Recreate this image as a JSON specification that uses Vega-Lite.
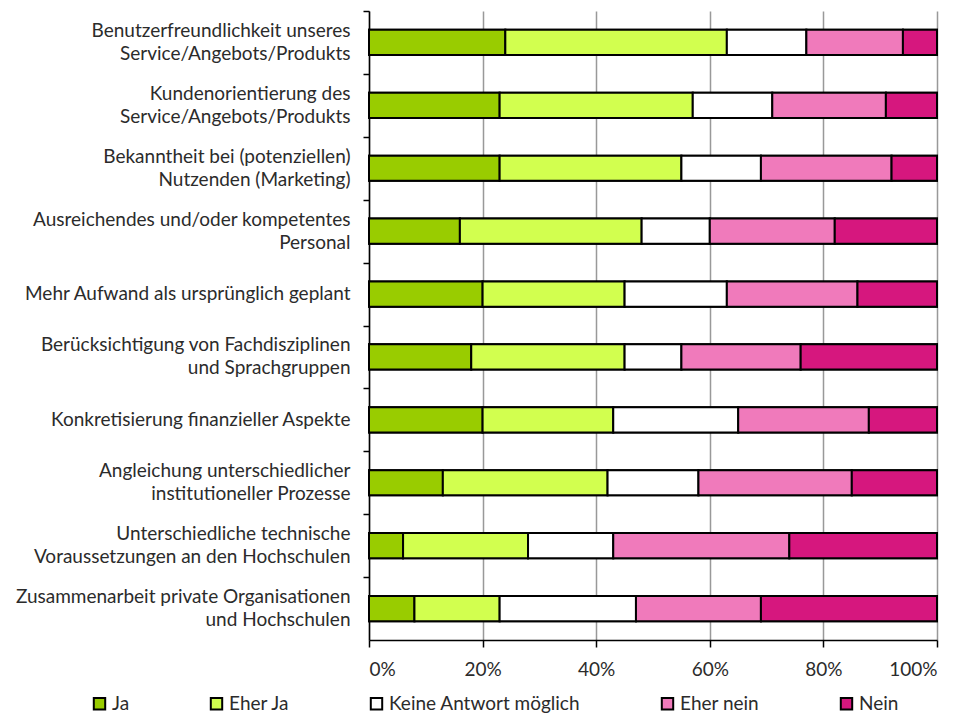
{
  "$schema": "https://vega.github.io/schema/vega-lite/v6.json",
  "width": 568,
  "height": 629,
  "autosize": {"type": "none"},
  "padding": {"left": 369, "top": 11, "right": 29, "bottom": 76},
  "background": "white",
  "config": {
    "view": {"stroke": null},
    "font": "Lato",
    "axis": {"labelFont": "Lato", "labelFontSize": 19, "labelColor": "#2b2b2b"},
    "legend": {"labelFont": "Lato", "labelFontSize": 19, "labelColor": "#2b2b2b"}
  },
  "data": {
    "values": [
      {"item": "Benutzerfreundlichkeit unseres|Service/Angebots/Produkts", "answer": "Ja", "value": 24},
      {"item": "Benutzerfreundlichkeit unseres|Service/Angebots/Produkts", "answer": "Eher Ja", "value": 39},
      {"item": "Benutzerfreundlichkeit unseres|Service/Angebots/Produkts", "answer": "Keine Antwort möglich", "value": 14},
      {"item": "Benutzerfreundlichkeit unseres|Service/Angebots/Produkts", "answer": "Eher nein", "value": 17},
      {"item": "Benutzerfreundlichkeit unseres|Service/Angebots/Produkts", "answer": "Nein", "value": 6},
      {"item": "Kundenorientierung des|Service/Angebots/Produkts", "answer": "Ja", "value": 23},
      {"item": "Kundenorientierung des|Service/Angebots/Produkts", "answer": "Eher Ja", "value": 34},
      {"item": "Kundenorientierung des|Service/Angebots/Produkts", "answer": "Keine Antwort möglich", "value": 14},
      {"item": "Kundenorientierung des|Service/Angebots/Produkts", "answer": "Eher nein", "value": 20},
      {"item": "Kundenorientierung des|Service/Angebots/Produkts", "answer": "Nein", "value": 9},
      {"item": "Bekanntheit bei (potenziellen)|Nutzenden (Marketing)", "answer": "Ja", "value": 23},
      {"item": "Bekanntheit bei (potenziellen)|Nutzenden (Marketing)", "answer": "Eher Ja", "value": 32},
      {"item": "Bekanntheit bei (potenziellen)|Nutzenden (Marketing)", "answer": "Keine Antwort möglich", "value": 14},
      {"item": "Bekanntheit bei (potenziellen)|Nutzenden (Marketing)", "answer": "Eher nein", "value": 23},
      {"item": "Bekanntheit bei (potenziellen)|Nutzenden (Marketing)", "answer": "Nein", "value": 8},
      {"item": "Ausreichendes und/oder kompetentes|Personal", "answer": "Ja", "value": 16},
      {"item": "Ausreichendes und/oder kompetentes|Personal", "answer": "Eher Ja", "value": 32},
      {"item": "Ausreichendes und/oder kompetentes|Personal", "answer": "Keine Antwort möglich", "value": 12},
      {"item": "Ausreichendes und/oder kompetentes|Personal", "answer": "Eher nein", "value": 22},
      {"item": "Ausreichendes und/oder kompetentes|Personal", "answer": "Nein", "value": 18},
      {"item": "Mehr Aufwand als ursprünglich geplant", "answer": "Ja", "value": 20},
      {"item": "Mehr Aufwand als ursprünglich geplant", "answer": "Eher Ja", "value": 25},
      {"item": "Mehr Aufwand als ursprünglich geplant", "answer": "Keine Antwort möglich", "value": 18},
      {"item": "Mehr Aufwand als ursprünglich geplant", "answer": "Eher nein", "value": 23},
      {"item": "Mehr Aufwand als ursprünglich geplant", "answer": "Nein", "value": 14},
      {"item": "Berücksichtigung von Fachdisziplinen|und Sprachgruppen", "answer": "Ja", "value": 18},
      {"item": "Berücksichtigung von Fachdisziplinen|und Sprachgruppen", "answer": "Eher Ja", "value": 27},
      {"item": "Berücksichtigung von Fachdisziplinen|und Sprachgruppen", "answer": "Keine Antwort möglich", "value": 10},
      {"item": "Berücksichtigung von Fachdisziplinen|und Sprachgruppen", "answer": "Eher nein", "value": 21},
      {"item": "Berücksichtigung von Fachdisziplinen|und Sprachgruppen", "answer": "Nein", "value": 24},
      {"item": "Konkretisierung finanzieller Aspekte", "answer": "Ja", "value": 20},
      {"item": "Konkretisierung finanzieller Aspekte", "answer": "Eher Ja", "value": 23},
      {"item": "Konkretisierung finanzieller Aspekte", "answer": "Keine Antwort möglich", "value": 22},
      {"item": "Konkretisierung finanzieller Aspekte", "answer": "Eher nein", "value": 23},
      {"item": "Konkretisierung finanzieller Aspekte", "answer": "Nein", "value": 12},
      {"item": "Angleichung unterschiedlicher|institutioneller Prozesse", "answer": "Ja", "value": 13},
      {"item": "Angleichung unterschiedlicher|institutioneller Prozesse", "answer": "Eher Ja", "value": 29},
      {"item": "Angleichung unterschiedlicher|institutioneller Prozesse", "answer": "Keine Antwort möglich", "value": 16},
      {"item": "Angleichung unterschiedlicher|institutioneller Prozesse", "answer": "Eher nein", "value": 27},
      {"item": "Angleichung unterschiedlicher|institutioneller Prozesse", "answer": "Nein", "value": 15},
      {"item": "Unterschiedliche technische|Voraussetzungen an den Hochschulen", "answer": "Ja", "value": 6},
      {"item": "Unterschiedliche technische|Voraussetzungen an den Hochschulen", "answer": "Eher Ja", "value": 22},
      {"item": "Unterschiedliche technische|Voraussetzungen an den Hochschulen", "answer": "Keine Antwort möglich", "value": 15},
      {"item": "Unterschiedliche technische|Voraussetzungen an den Hochschulen", "answer": "Eher nein", "value": 31},
      {"item": "Unterschiedliche technische|Voraussetzungen an den Hochschulen", "answer": "Nein", "value": 26},
      {"item": "Zusammenarbeit private Organisationen|und Hochschulen", "answer": "Ja", "value": 8},
      {"item": "Zusammenarbeit private Organisationen|und Hochschulen", "answer": "Eher Ja", "value": 15},
      {"item": "Zusammenarbeit private Organisationen|und Hochschulen", "answer": "Keine Antwort möglich", "value": 24},
      {"item": "Zusammenarbeit private Organisationen|und Hochschulen", "answer": "Eher nein", "value": 22},
      {"item": "Zusammenarbeit private Organisationen|und Hochschulen", "answer": "Nein", "value": 31}
    ]
  },
  "transform": [
    {"calculate": "indexof(['Ja','Eher Ja','Keine Antwort möglich','Eher nein','Nein'], datum.answer)", "as": "ord"}
  ],
  "encoding": {
    "x": {
      "field": "value",
      "type": "quantitative",
      "stack": "normalize",
      "title": null,
      "scale": {"domain": [0, 1]},
      "axis": {
        "values": [0, 0.2, 0.4, 0.6, 0.8, 1],
        "format": "%",
        "grid": true,
        "gridColor": "#999999",
        "gridWidth": 1.5,
        "tickSize": 7,
        "tickColor": "black",
        "tickWidth": 1.5,
        "domainColor": "black",
        "domainWidth": 1.5,
        "labelPadding": 13
      }
    },
    "color": {
      "field": "answer",
      "type": "nominal",
      "title": null,
      "scale": {
        "domain": ["Ja", "Eher Ja", "Keine Antwort möglich", "Eher nein", "Nein"],
        "range": ["#99CC00", "#D2FF4F", "#FFFFFF", "#F07ABB", "#D6177E"]
      },
      "legend": {
        "orient": "none",
        "legendX": -279,
        "legendY": 683,
        "direction": "horizontal",
        "columns": 5,
        "columnPadding": 76,
        "padding": 0,
        "labelLimit": 400,
        "symbolType": "square",
        "symbolSize": 130,
        "symbolStrokeColor": "black",
        "symbolStrokeWidth": 2,
        "labelOffset": 3
      }
    },
    "order": {"field": "ord", "type": "quantitative"}
  },
  "layer": [
    {
      "mark": {"type": "bar", "stroke": "black", "strokeWidth": 2},
      "encoding": {
        "y": {
          "field": "item",
          "type": "nominal",
          "sort": null,
          "title": null,
          "scale": {"paddingInner": 0.6, "paddingOuter": 0.3},
          "axis": {
            "orient": "left",
            "labelExpr": "indexof(datum.label, '|') >= 0 ? split(datum.label, '|') : ''",
            "labelBaseline": "line-bottom",
            "labelLineHeight": 23,
            "labelLimit": 400,
            "labelPadding": 13,
            "tickOffset": -31.45,
            "labelOffset": 31.45,
            "tickSize": 6,
            "tickColor": "black",
            "tickWidth": 1.5,
            "domainColor": "black",
            "domainWidth": 1.5,
            "grid": false
          }
        }
      }
    },
    {
      "mark": {"type": "bar", "stroke": "black", "strokeWidth": 2},
      "encoding": {
        "y": {
          "field": "item",
          "type": "nominal",
          "sort": null,
          "title": null,
          "scale": {"paddingInner": 0.6, "paddingOuter": 0.3},
          "axis": {
            "orient": "left",
            "labelExpr": "indexof(datum.label, '|') >= 0 ? '' : datum.label",
            "labelBaseline": "middle",
            "labelLimit": 400,
            "labelPadding": 13,
            "tickSize": 6,
            "tickOpacity": 0,
            "domain": false,
            "grid": false,
            "offset": 0
          }
        }
      }
    }
  ],
  "resolve": {"axis": {"y": "independent"}}
}
